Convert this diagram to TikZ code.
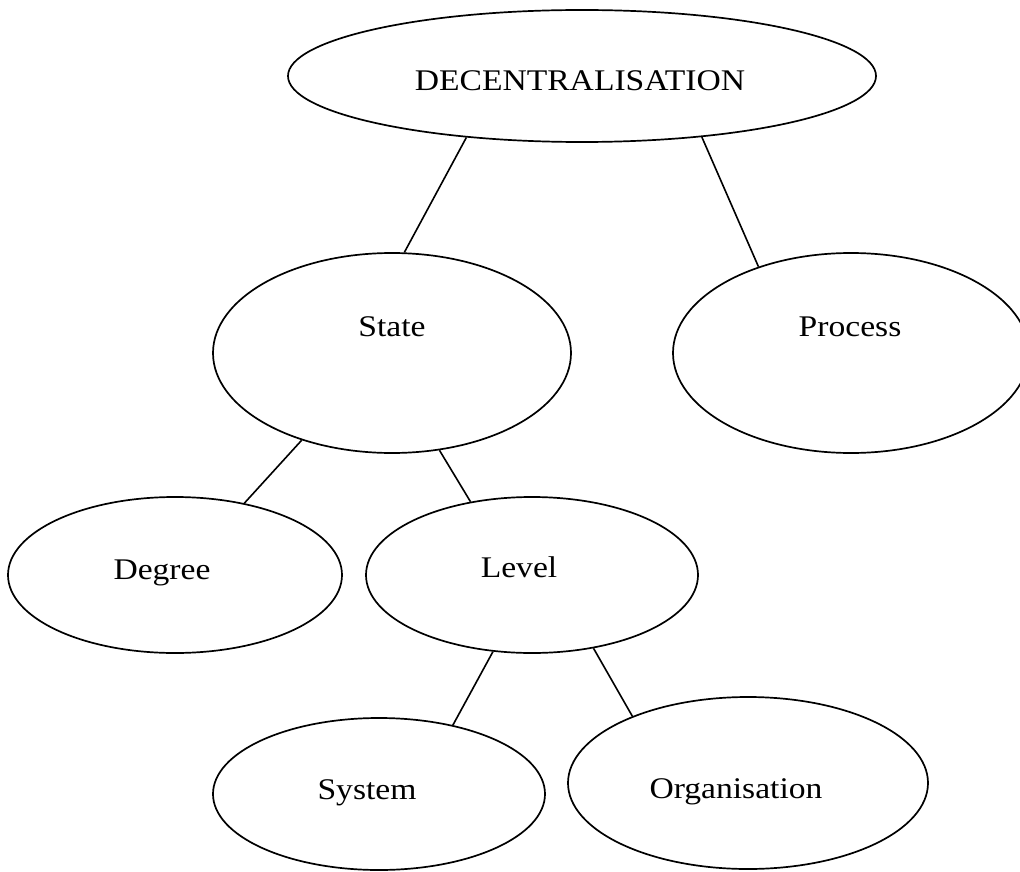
\documentclass[tikz,border=0pt]{standalone}
\usepackage{fontspec}
\setmainfont{Liberation Serif}[FakeStretch=1.12]
\usetikzlibrary{shapes.geometric}

\tikzset{
  bubble/.style={draw=black, line width=1.7pt, shape=ellipse, inner sep=0pt},
  caption/.style={anchor=base, inner sep=0pt, font=\fontsize{30}{36}\selectfont},
  link/.style={draw=black, line width=1.6pt}
}

\begin{document}
\begin{tikzpicture}[x=1pt, y=-1pt]
  \useasboundingbox[fill=white] (0,0) rectangle (1020,872);

  % ellipses
  \node[bubble, minimum width=588pt, minimum height=132pt] (dec)   at (582,76)  {};
  \node[bubble, minimum width=358pt, minimum height=200pt] (state) at (392,353) {};
  \node[bubble, minimum width=356pt, minimum height=200pt] (proc)  at (851,353) {};
  \node[bubble, minimum width=334pt, minimum height=156pt] (deg)   at (175,575) {};
  \node[bubble, minimum width=332pt, minimum height=156pt] (lev)   at (532,575) {};
  \node[bubble, minimum width=332pt, minimum height=152pt] (sys)   at (379,794) {};
  \node[bubble, minimum width=360pt, minimum height=172pt] (org)   at (748,783) {};

  % captions
  \node[caption] (decT)   at (580,91)  {DECENTRALISATION};
  \node[caption] (stateT) at (392,336) {State};
  \node[caption] (procT)  at (850,336) {Process};
  \node[caption] (degT)   at (162,579) {Degree};
  \node[caption] (levT)   at (519,577) {Level};
  \node[caption] (sysT)   at (367,799) {System};
  \node[caption] (orgT)   at (736,798) {Organisation};

  % tree links
  \draw[link] (dec.208.4)   -- (state.83.1);
  \draw[link] (dec.333.1)   -- (proc.137.5);
  \draw[link] (state.224.7) -- (deg.46.6);
  \draw[link] (state.296.6) -- (lev.130.3);
  \draw[link] (lev.243.4)   -- (sys.43);
  \draw[link] (lev.310.3)   -- (org.150.1);
\end{tikzpicture}
\end{document}
